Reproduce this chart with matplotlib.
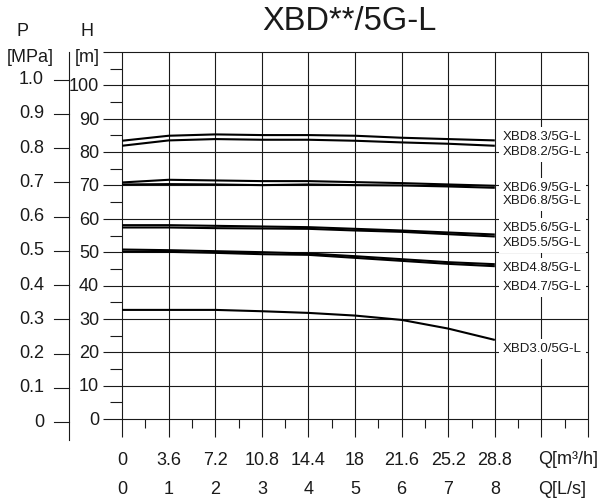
import matplotlib.pyplot as plt
import numpy as np

plt.rcParams['font.family'] = ['Liberation Sans', 'DejaVu Sans']

# flow points in L/s and head in m
q = [0, 1, 2, 3, 4, 5, 6, 7, 8]
h_83 = [83.4, 84.9, 85.3, 85.1, 85.1, 84.9, 84.3, 83.9, 83.5]
h_82 = [81.9, 83.5, 83.9, 83.7, 83.7, 83.4, 82.9, 82.5, 81.9]
h_69 = [70.9, 71.7, 71.5, 71.3, 71.3, 71.0, 70.7, 70.3, 69.9]
h_68 = [70.3, 70.4, 70.3, 70.1, 70.3, 70.1, 70.0, 69.7, 69.3]
h_56 = [58.1, 58.1, 57.9, 57.7, 57.5, 57.0, 56.5, 55.9, 55.3]
h_55 = [57.4, 57.4, 57.2, 57.1, 57.0, 56.5, 56.1, 55.4, 54.7]
h_48 = [50.8, 50.6, 50.3, 50.0, 49.6, 48.8, 47.9, 47.0, 46.4]
h_47 = [50.2, 50.1, 49.8, 49.4, 49.2, 48.3, 47.4, 46.5, 45.8]
h_30 = [32.7, 32.7, 32.7, 32.3, 31.8, 31.0, 29.7, 27.1, 23.7]

curves = [h_83, h_82, h_69, h_68, h_56, h_55, h_48, h_47, h_30]
names = ["XBD8.3/5G-L", "XBD8.2/5G-L", "XBD6.9/5G-L", "XBD6.8/5G-L",
         "XBD5.6/5G-L", "XBD5.5/5G-L", "XBD4.8/5G-L", "XBD4.7/5G-L",
         "XBD3.0/5G-L"]
name_h = [84.4, 79.9, 69.3, 65.3, 57.3, 52.7, 45.2, 39.5, 21.0]

q_m3h = ["0", "3.6", "7.2", "10.8", "14.4", "18", "21.6", "25.2", "28.8"]
q_ls = ["0", "1", "2", "3", "4", "5", "6", "7", "8"]
h_ticks = [0, 10, 20, 30, 40, 50, 60, 70, 80, 90, 100]
p_ticks = [0, 0.1, 0.2, 0.3, 0.4, 0.5, 0.6, 0.7, 0.8, 0.9, 1.0]

W, H = 601, 504
fig = plt.figure(figsize=(W / 100, H / 100), dpi=100)
ax = fig.add_axes([103 / W, (H - 419) / H, 485 / W, 367 / H])
ax.set_xlim(-0.41, 10)
ax.set_ylim(0, 110)
ax.axis('off')


def xd(px):
    # pixel column -> data x
    return (px - 122) / 46.59


def p2h(p):
    # pressure scale sits a little off the head scale
    return 102.6 * p - 0.9


lc = '#1a1a1a'
tc = '#1a1a1a'
# grid
ax.hlines(np.arange(0, 111, 10), -0.41, 10, color=lc, lw=0.8, clip_on=False)
ax.vlines(np.arange(0, 11), -5.4, 110, color=lc, lw=0.8, clip_on=False)
ax.vlines(np.arange(0.5, 10, 1), -2.7, 0, color=lc, lw=0.8, clip_on=False)
ax.hlines(np.arange(5, 110, 10), xd(110), 0, color=lc, lw=0.8, clip_on=False)

# P axis on the far left
ax.plot([xd(69), xd(69)], [110, -6.3], color=lc, lw=0.8, clip_on=False)
for p in p_ticks:
    ax.plot([xd(54), xd(69)], [p2h(p), p2h(p)], color=lc, lw=0.8, clip_on=False)
    ax.text(xd(44), p2h(p), "0" if p == 0 else f"{p:.1f}", ha='right',
            va='center', fontsize=13, color=tc)

for h in h_ticks:
    ax.text(xd(99), h - 0.4, str(h), ha='right', va='center', fontsize=13,
            color=tc)

# curves
for h in curves:
    ax.plot(q, h, color='black', lw=1.5, solid_capstyle='butt', zorder=3)

for name, y in zip(names, name_h):
    ax.text(xd(503), y, name, ha='left', va='center', fontsize=9.5,
            color=tc, zorder=4,
            bbox=dict(boxstyle='square,pad=0.3', fc='white', ec='none'))

# flow labels, two rows
for x, a, b in zip(q, q_m3h, q_ls):
    ax.text(x, -12.5, a, ha='center', va='center', fontsize=13, color=tc)
    ax.text(x, -21.0, b, ha='center', va='center', fontsize=13, color=tc)
ax.text(xd(538), -12.0, "Q[m³/h]", ha='left', va='center', fontsize=13,
        color=tc)
ax.text(xd(538), -21.2, "Q[L/s]", ha='left', va='center', fontsize=13,
        color=tc)

fig.text(23 / W, 1 - 32 / H, "P", ha='center', va='center', fontsize=13, color=tc)
fig.text(30 / W, 1 - 57 / H, "[MPa]", ha='center', va='center', fontsize=13, color=tc)
fig.text(87 / W, 1 - 32 / H, "H", ha='center', va='center', fontsize=13, color=tc)
fig.text(87 / W, 1 - 57 / H, "[m]", ha='center', va='center', fontsize=13, color=tc)
fig.text(349 / W, 1 - 21 / H, "XBD**/5G-L", ha='center', va='center',
         fontsize=23.5, color=tc)

fig.savefig('out.png', dpi=100)
